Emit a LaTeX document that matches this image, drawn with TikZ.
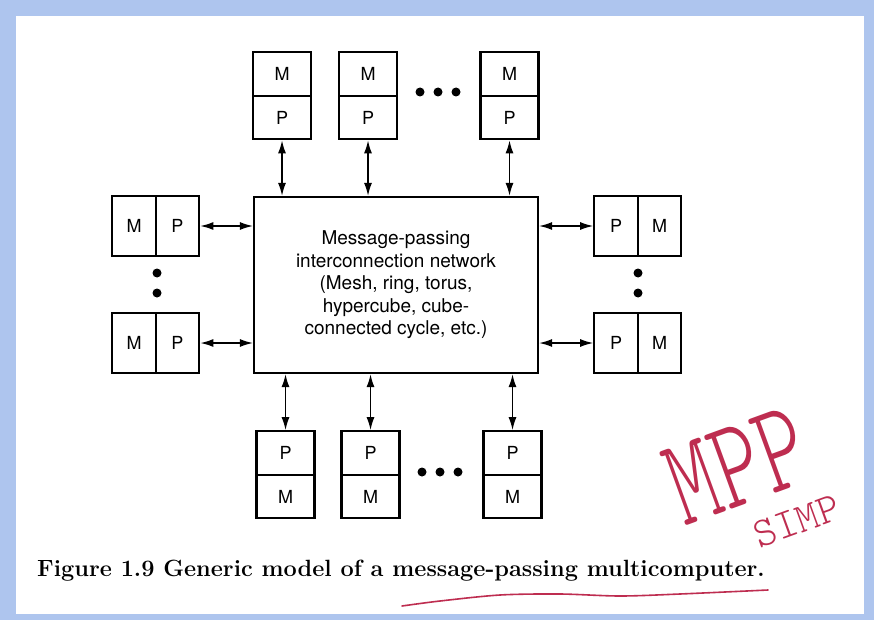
\documentclass[tikz,border=0pt]{standalone}
\usepackage{fontspec}
\usepackage{graphicx}
\newfontfamily\helv{TeX Gyre Heros}
\usetikzlibrary{arrows.meta}
\definecolor{bgblue}{RGB}{174,197,238}
\definecolor{handred}{RGB}{190,45,80}
\tikzset{
  cell/.style={draw, line width=2.2pt, inner sep=0pt, font=\helv\fontsize{18}{21}\selectfont},
  vcell/.style={cell, minimum width=58pt, minimum height=43.5pt},
  hcell/.style={cell, minimum width=43.5pt, minimum height=60pt},
  netbox/.style={draw, line width=2.2pt, minimum width=284pt, minimum height=176pt, align=center,
    font=\helv\fontsize{19}{22.5}\selectfont},
  biarr/.style={line width=1.5pt, {Latex[length=13pt,width=8pt]}-{Latex[length=13pt,width=8pt]}},
  dotn/.style={circle, fill=black, inner sep=0pt, minimum size=9pt},
  hand/.style={text=handred, inner sep=0pt},
}
\begin{document}
\begin{tikzpicture}[x=1pt,y=-1pt]
\useasboundingbox (0,0) rectangle (874,620);
\fill[bgblue] (0,0) rectangle (874,620);
\fill[white] (16,16) rectangle (864,614);

% central network
\node[netbox] (net) at (396,285) {Message-passing\\interconnection network\\(Mesh, ring, torus,\\hypercube, cube-\\connected cycle, etc.)};

% top row
\node[vcell] (t1m) at (282,74) {M};
\node[vcell] (t1p) at (282,117.5) {P};
\node[vcell] (t2m) at (368,74) {M};
\node[vcell] (t2p) at (368,117.5) {P};
\node[vcell] (t3m) at (509.5,74) {M};
\node[vcell] (t3p) at (509.5,117.5) {P};
\node[dotn] (td1) at (420,92) {};
\node[dotn] (td2) at (438,92) {};
\node[dotn] (td3) at (456,92) {};

% bottom row
\node[vcell] (b1p) at (285.5,453) {P};
\node[vcell] (b1m) at (285.5,496.5) {M};
\node[vcell] (b2p) at (370.5,453) {P};
\node[vcell] (b2m) at (370.5,496.5) {M};
\node[vcell] (b3p) at (512.5,453) {P};
\node[vcell] (b3m) at (512.5,496.5) {M};
\node[dotn] (bd1) at (422,472) {};
\node[dotn] (bd2) at (440,472) {};
\node[dotn] (bd3) at (458,472) {};

% left column
\node[hcell] (l1m) at (134,226) {M};
\node[hcell] (l1p) at (177.5,226) {P};
\node[hcell] (l2m) at (134,343) {M};
\node[hcell] (l2p) at (177.5,343) {P};
\node[dotn] (ld1) at (157,273) {};
\node[dotn] (ld2) at (157,293) {};

% right column
\node[hcell] (r1p) at (616,226) {P};
\node[hcell] (r1m) at (659.5,226) {M};
\node[hcell] (r2p) at (616,343) {P};
\node[hcell] (r2m) at (659.5,343) {M};
\node[dotn] (rd1) at (638,273) {};
\node[dotn] (rd2) at (638,293) {};

% connectors
\draw[biarr] (t1p.south) -- (t1p.south |- net.north);
\draw[biarr] (t2p.south) -- (t2p.south |- net.north);
\draw[biarr] (t3p.south) -- (t3p.south |- net.north);
\draw[biarr] (b1p.north) -- (b1p.north |- net.south);
\draw[biarr] (b2p.north) -- (b2p.north |- net.south);
\draw[biarr] (b3p.north) -- (b3p.north |- net.south);
\draw[biarr] (l1p.east) -- (l1p.east -| net.west);
\draw[biarr] (l2p.east) -- (l2p.east -| net.west);
\draw[biarr] (r1p.west) -- (r1p.west -| net.east);
\draw[biarr] (r2p.west) -- (r2p.west -| net.east);

% caption
\node[anchor=base west, inner sep=0pt, font=\fontsize{23.5}{28}\selectfont\bfseries] (cap) at (37,576)
  {Figure 1.9 Generic model of a message-passing multicomputer.};

% handwritten annotation
\draw[handred, line width=1.6pt, line cap=round] plot[smooth] coordinates
  {(402,606) (440,601) (500,595) (560,594) (620,596) (680,594) (768,590)};
\node[hand, rotate=20, font=\fontfamily{lmtt}\fontseries{l}\fontsize{80}{80}\selectfont] (mpp) at (737,466) {\scalebox{1.12}[1.6]{MPP}};
\node[hand, rotate=20, font=\fontfamily{lmtt}\fontseries{l}\fontsize{42}{42}\selectfont] (simp) at (797,521) {SIMP};
\end{tikzpicture}
\end{document}
